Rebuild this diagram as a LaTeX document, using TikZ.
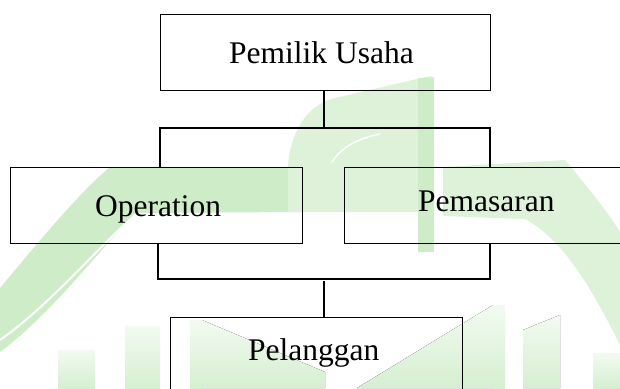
\documentclass[tikz,border=0pt]{standalone}
\usepackage{fontspec}
\setmainfont{Liberation Serif}
\definecolor{wmgreen}{RGB}{206,236,200}
\tikzset{
  orgbox/.style={draw=black, line width=0.8pt, rectangle, inner sep=0pt, anchor=north west},
  orglabel/.style={inner sep=0pt, anchor=base west, font=\fontsize{31.5}{36}\selectfont},
  wire/.style={draw=black, line width=1.4pt},
  wm/.style={fill=wmgreen, draw=none},
  wmsoft/.style={fill=wmgreen!70, draw=none},
  wmbar/.style={draw=none, top color=wmgreen!25, bottom color=wmgreen!85},
}
\begin{document}
\begin{tikzpicture}[x=1pt, y=-1pt]
  \useasboundingbox (0,0) rectangle (620,388);
  \clip (0,0) rectangle (620,388);
  \fill[white] (0,0) rectangle (620,388);

  % faint green emblem in the background
  \fill[wm] (0,288) .. controls (40,240) and (80,192) .. (110,167) -- (300,167)
            -- (300,212) -- (135,213) .. controls (100,250) and (50,315) .. (0,352) -- cycle;
  \draw[white, line width=2pt] (0,340) .. controls (50,305) and (100,245) .. (132,218) -- (300,218);
  \fill[wmsoft] (288,167) .. controls (290,135) and (305,105) .. (335,98) -- (430,76)
            -- (434,78) -- (434,252) -- (418,252) -- (418,212) -- (300,212) -- (288,212) -- cycle;
  \fill[wm] (418,78) rectangle (434,252);
  \draw[white, line width=1.5pt, line cap=round] (332,162) .. controls (342,146) and (360,138) .. (380,134);
  \fill[wmsoft] (443,167) -- (565,160) .. controls (590,190) and (610,215) .. (620,232)
            -- (620,345) .. controls (595,295) and (565,240) .. (525,219) -- (443,216) -- cycle;
  \fill[wmbar] (58,350) rectangle (95,388);
  \fill[wmbar] (125,326) rectangle (160,388);
  \fill[wmbar] (190,320) rectangle (202,388);
  \fill[wmbar] (202,320) -- (325,372) -- (325,388) -- (202,388) -- cycle;
  \fill[wmbar] (357,388) -- (493,305) -- (493,388) -- cycle;
  \fill[wmbar] (493,305) rectangle (505,388);
  \fill[wmbar] (523,330) -- (560,315) -- (560,388) -- (523,388) -- cycle;
  \fill[wmbar] (593,353) rectangle (620,388);

  % boxes
  \node[orgbox, minimum width=330pt, minimum height=76pt] (owner) at (160,14) {};
  \node[orgbox, minimum width=292pt, minimum height=76pt] (ops) at (10,167) {};
  \node[orgbox, minimum width=290pt, minimum height=76pt] (mkt) at (344,167) {};
  \node[orgbox, minimum width=292pt, minimum height=90pt] (cust) at (170,317) {};

  % labels
  \node[orglabel] (ownerT) at (229,63) {Pemilik Usaha};
  \node[orglabel] (opsT) at (95,216) {Operation};
  \node[orglabel] (mktT) at (418,211) {Pemasaran};
  \node[orglabel] (custT) at (248,360) {Pelanggan};

  % junction points of the connectors
  \coordinate (jM) at (324,128);
  \coordinate (jL) at (160,128);
  \coordinate (jR) at (490,128);
  \coordinate (kL) at (158,279);
  \coordinate (kR) at (490,279);
  \coordinate (kM) at (324,281);

  % connectors
  \draw[wire] (owner.south -| jM) -- (jM);
  \draw[wire] (jL |- ops.north) -- (jL) -- (jR) -- (jR |- mkt.north);
  \draw[wire] (kL |- ops.south) -- (kL) -- (kR) -- (kR |- mkt.south);
  \draw[wire] (kM) -- (kM |- cust.north);
\end{tikzpicture}
\end{document}
